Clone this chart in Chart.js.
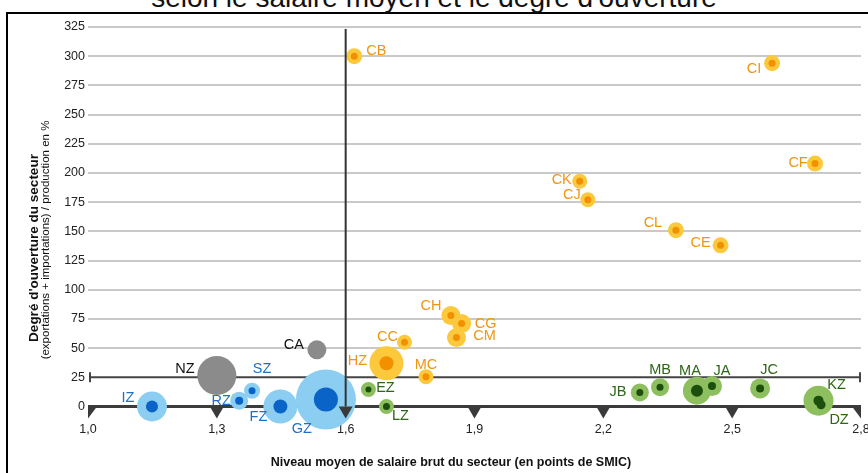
<!DOCTYPE html>
<html><head><meta charset="utf-8">
<script src="https://cdn.jsdelivr.net/npm/chart.js@4/dist/chart.umd.min.js"></script>
<style>
html,body{margin:0;padding:0;background:#fff;overflow:hidden;width:868px;height:473px;}
#frame{position:absolute;left:6px;top:12px;width:900px;height:500px;border-left:2px solid #000;border-top:2px solid #000;box-sizing:border-box;}
#title{position:absolute;left:0;top:-18px;width:868px;text-align:center;font:28px 'Liberation Sans',Arial,sans-serif;line-height:32px;color:#111;white-space:nowrap;}
#c{position:absolute;left:0;top:0;}
</style></head>
<body>
<div id="frame"></div>
<div id="title">selon le salaire moyen et le degré d'ouverture</div>
<canvas id="c" width="868" height="473"></canvas>
<script>
// ---- tick labels ----
const xTicks = [1.0, 1.3, 1.6, 1.9, 2.2, 2.5, 2.8];
const yTicks = [0, 25, 50, 75, 100, 125, 150, 175, 200, 225, 250, 275, 300, 325];
const refX = 1.6;   // vertical reference line (salary)
const refY = 25;    // horizontal reference line (openness)

// ---- industry (orange) ----
const orangeNames = ['CB','CI','CF','CK','CJ','CL','CE','CH','CG','CM','CC','HZ','MC'];
const orangeX     = [1.620, 2.593, 2.693, 2.145, 2.164, 2.369, 2.473, 1.845, 1.870, 1.858, 1.737, 1.695, 1.787];
const orangeY     = [300, 294, 208, 193, 177, 151, 138, 78, 71, 59, 55, 37, 25.5];
const orangeSize  = [8, 8, 8, 7.5, 7.5, 8, 8, 9.5, 9.5, 9.5, 7.5, 17, 7.5];
const orangeCore  = [3.5, 3.5, 3.5, 3.5, 3.5, 3.5, 3.5, 3.5, 3.5, 3.5, 3.5, 7, 3.5];

// ---- services (blue) ----
const blueNames = ['IZ','RZ','SZ','FZ','GZ'];
const blueX     = [1.149, 1.352, 1.382, 1.448, 1.554];
const blueY     = [0, 5, 13.5, 0, 6];
const blueSize  = [15, 9, 8, 17, 30];
const blueCore  = [6, 4, 3.5, 7, 12];

// ---- other (green) ----
const greenNames = ['EZ','LZ','JB','MB','MA','JA','JC','KZ','DZ'];
const greenX     = [1.653, 1.695, 2.285, 2.332, 2.418, 2.453, 2.565, 2.701, 2.707];
const greenY     = [14.5, 0, 12, 16.5, 13.5, 17.5, 15.5, 5, 1.5];
const greenSize  = [7.5, 7.5, 9, 9, 14, 10, 10, 15, 8];
const greenCore  = [3, 3.5, 3.5, 3.5, 6, 4, 4, 5, 4.5];

// ---- gray ----
const grayNames = ['NZ','CA'];
const grayX     = [1.300, 1.533];
const grayY     = [26.5, 48.5];
const graySize  = [19.5, 9.5];

// label placement (offset of label centre from bubble centre, px)
const labelOffset = {
  CB:[22,-5], CI:[-18,6], CF:[-17,-1], CK:[-18,-1], CJ:[-16,-5], CL:[-23,-7], CE:[-20,-2],
  CH:[-20,-9], CG:[24,0], CM:[28,-2], CC:[-17,-5], HZ:[-29,-2], MC:[0,-12],
  IZ:[-24,-8], RZ:[-18,0], SZ:[10,-22], FZ:[-22,11], GZ:[-24,30],
  EZ:[17,-2], LZ:[14,10], JB:[-22,0], MB:[0,-17], MA:[-7,-20], JA:[10,-15], JC:[9,-18], KZ:[18,-16], DZ:[18,15],
  NZ:[-32,-7], CA:[-23,-5]
};

const FONT = "'Liberation Sans', Arial, sans-serif";
const pts = (xs, ys, rs) => xs.map((v, i) => ({x: v, y: ys[i], r: rs[i]}));

const groups = [
  {names: orangeNames, x: orangeX, y: orangeY, size: orangeSize, core: orangeCore, outer: '#FCC83C', inner: '#F29000', text: '#EF9512'},
  {names: blueNames, x: blueX, y: blueY, size: blueSize, core: blueCore, outer: '#8CCEF1', inner: '#0A63C6', text: '#1F6FC6'},
  {names: greenNames, x: greenX, y: greenY, size: greenSize, core: greenCore, outer: '#8EBF5E', inner: '#1C4E0D', text: '#2D6616'},
  {names: grayNames, x: grayX, y: grayY, size: graySize, core: null, outer: '#8B8B8B', inner: null, text: '#111'}
];

const datasets = [];
groups.forEach(g => {
  datasets.push({data: pts(g.x, g.y, g.size), backgroundColor: g.outer, borderWidth: 0, order: 1, clip: false});
  if (g.core) datasets.push({data: pts(g.x, g.y, g.core), backgroundColor: g.inner, borderWidth: 0, order: 0, clip: false});
});

const deco = {
  id: 'deco',
  beforeDatasetsDraw(chart) {
    const {ctx, chartArea: a, scales: {x, y}} = chart;
    const y25 = y.getPixelForValue(refY), y0 = y.getPixelForValue(0);
    ctx.save();
    ctx.strokeStyle = '#444'; ctx.lineWidth = 2;
    ctx.beginPath();
    ctx.moveTo(a.left + 2, y25); ctx.lineTo(a.right - 1, y25);
    ctx.moveTo(a.left + 2, y25 - 5); ctx.lineTo(a.left + 2, y25 + 5);
    ctx.moveTo(a.right - 1, y25 - 5); ctx.lineTo(a.right - 1, y25 + 5);
    ctx.stroke();
    ctx.lineWidth = 3; ctx.strokeStyle = '#3c3c3c';
    ctx.beginPath(); ctx.moveTo(a.left, y0); ctx.lineTo(a.right, y0); ctx.stroke();
    ctx.restore();
  },
  afterDatasetsDraw(chart) {
    const {ctx, chartArea: a, scales: {x, y}} = chart;
    const y0 = y.getPixelForValue(0);
    ctx.save();
    // vertical reference line
    const xv = x.getPixelForValue(refX);
    ctx.strokeStyle = '#333'; ctx.lineWidth = 2;
    ctx.beginPath(); ctx.moveTo(xv, a.top + 2); ctx.lineTo(xv, y0); ctx.stroke();
    // triangles on the axis
    ctx.fillStyle = '#3a3a3a';
    xTicks.forEach((v, i) => {
      const px = x.getPixelForValue(v);
      ctx.beginPath();
      if (i === 0) { ctx.moveTo(px, y0); ctx.lineTo(px + 9, y0); ctx.lineTo(px, y0 + 12); }
      else if (i === xTicks.length - 1) { ctx.moveTo(px, y0); ctx.lineTo(px - 9, y0); ctx.lineTo(px, y0 + 12); }
      else { ctx.moveTo(px - 7, y0); ctx.lineTo(px + 7, y0); ctx.lineTo(px, y0 + 12); }
      ctx.closePath(); ctx.fill();
    });
    // bubble labels
    ctx.font = '14.5px ' + FONT;
    ctx.textAlign = 'center'; ctx.textBaseline = 'middle';
    groups.forEach(g => {
      ctx.fillStyle = g.text;
      g.names.forEach((n, i) => {
        const o = labelOffset[n] || [0, 0];
        ctx.fillText(n, x.getPixelForValue(g.x[i]) + o[0], y.getPixelForValue(g.y[i]) + o[1]);
      });
    });
    ctx.restore();
  },
  afterDraw(chart) {
    const {ctx} = chart;
    ctx.save();
    ctx.fillStyle = '#111';
    ctx.textAlign = 'center'; ctx.textBaseline = 'middle';
    ctx.font = 'bold 12.5px ' + FONT;
    ctx.fillText('Niveau moyen de salaire brut du secteur (en points de SMIC)', 451, 463);
    ctx.translate(34, 248); ctx.rotate(-Math.PI / 2);
    ctx.font = 'bold 13.5px ' + FONT;
    ctx.fillText("Degré d'ouverture du secteur", 0, 0);
    ctx.font = '11.5px ' + FONT;
    ctx.fillText('(exportations + importations) / production en %', 8, 12);
    ctx.restore();
  }
};

new Chart(document.getElementById('c'), {
  type: 'bubble',
  data: {datasets},
  options: {
    responsive: false, animation: false, devicePixelRatio: 1,
    events: [],
    layout: {autoPadding: false, padding: {top: 27, left: 0, right: 7, bottom: 0}},
    plugins: {legend: {display: false}, tooltip: {enabled: false}},
    scales: {
      x: {
        type: 'linear', min: 1.0, max: 2.8,
        afterBuildTicks(s) { s.ticks = xTicks.map(v => ({value: v})); },
        afterFit(s) { s.height = 52.5; s.paddingLeft = 0; s.paddingRight = 0; },
        grid: {display: false, drawTicks: false}, border: {display: false},
        ticks: {padding: 2, color: '#222', font: {size: 12.5, family: FONT},
          callback: v => Number(v).toFixed(1).replace('.', ',')}
      },
      y: {
        type: 'linear', min: -12, max: 325,
        afterBuildTicks(s) { s.ticks = yTicks.map(v => ({value: v})); },
        afterFit(s) { s.width = 88; s.paddingTop = 0; s.paddingBottom = 0; },
        grid: {drawTicks: false, lineWidth: 2,
          color: c => (c.tick && c.tick.value >= 50) ? '#c9c9c9' : 'rgba(0,0,0,0)'},
        border: {display: false},
        ticks: {padding: 3, color: '#222', font: {size: 12.5, family: FONT}}
      }
    }
  },
  plugins: [deco]
});
</script>
</body></html>
